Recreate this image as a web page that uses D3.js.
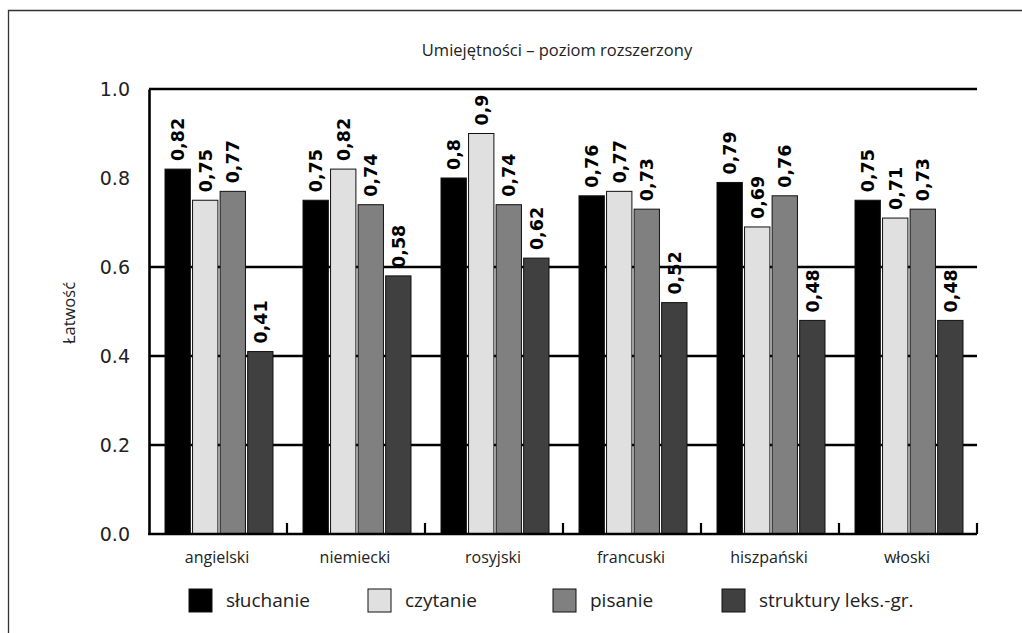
<!DOCTYPE html>
<html>
<head>
<meta charset="utf-8">
<script src="https://cdn.jsdelivr.net/npm/d3@7"></script>
<style>
  html, body { margin: 0; padding: 0; background: #fff; }
  svg { display: block; }
</style>
</head>
<body>
<svg id="chart" width="1022" height="633"></svg>
<script>
// Language categories
const categories = ["angielski", "niemiecki", "rosyjski", "francuski", "hiszpański", "włoski"];
// Skill series
const seriesNames = ["słuchanie", "czytanie", "pisanie", "struktury leks.-gr."];
const sluchanie = [0.82, 0.75, 0.80, 0.76, 0.79, 0.75];
const czytanie  = [0.75, 0.82, 0.90, 0.77, 0.69, 0.71];
const pisanie   = [0.77, 0.74, 0.74, 0.73, 0.76, 0.73];
const struktury = [0.41, 0.58, 0.62, 0.52, 0.48, 0.48];
const yTicks = [0.0, 0.2, 0.4, 0.6, 0.8, 1.0];
const gridValues = [0.2, 0.4, 0.6, 1.0];
const seriesColors = ["#000000", "#e0e0e0", "#808080", "#404040"];

const seriesValues = [sluchanie, czytanie, pisanie, struktury];

const svg = d3.select("#chart");
const plot = { left: 149, right: 977, top: 89, bottom: 534 };

// Frame around the figure
svg.append("path")
  .attr("d", "M8.5,633 L8.5,10.5 L1022,10.5")
  .attr("fill", "none").attr("stroke", "#333").attr("stroke-width", 1.3);

// Title
svg.append("text")
  .attr("x", 557).attr("y", 56)
  .attr("text-anchor", "middle")
  .attr("font-family", "'Open Sans', sans-serif")
  .attr("font-size", 16.5).attr("fill", "#222")
  .text("Umiejętności – poziom rozszerzony");

const x = d3.scaleBand().domain(categories).range([plot.left, plot.right]).padding(0);
const xInner = d3.scaleBand().domain(d3.range(seriesNames.length))
  .range([16, x.bandwidth() - 14]).paddingInner(0.08).paddingOuter(0);
const y = d3.scaleLinear().domain([0, 1]).range([plot.bottom, plot.top]);

// Gridlines
svg.append("g").selectAll("line").data(gridValues).join("line")
  .attr("x1", plot.left).attr("x2", plot.right)
  .attr("y1", d => y(d)).attr("y2", d => y(d))
  .attr("stroke", "#000").attr("stroke-width", 2.6);

// Bars
const groups = svg.append("g").selectAll("g").data(categories).join("g")
  .attr("transform", d => `translate(${x(d)},0)`);

groups.selectAll("rect")
  .data((c, ci) => seriesValues.map((vals, si) => ({ si, v: vals[ci] })))
  .join("rect")
  .attr("x", d => xInner(d.si))
  .attr("width", xInner.bandwidth())
  .attr("y", d => y(d.v))
  .attr("height", d => y(0) - y(d.v))
  .attr("fill", d => seriesColors[d.si])
  .attr("stroke", "#111").attr("stroke-width", 1);

// Value labels, rotated
groups.selectAll("text.val")
  .data((c, ci) => seriesValues.map((vals, si) => ({ si, v: vals[ci] })))
  .join("text")
  .attr("class", "val")
  .attr("transform", d => `translate(${xInner(d.si) + xInner.bandwidth() / 2 + 6.5},${y(d.v) - 8}) rotate(-90)`)
  .attr("font-family", "'DejaVu Sans', sans-serif")
  .attr("font-weight", "bold")
  .attr("font-size", 17.5)
  .attr("fill", "#000")
  .text(d => String(d.v).replace(".", ","));

// Y axis
const yAxis = svg.append("g")
  .attr("transform", `translate(${plot.left},0)`)
  .call(d3.axisLeft(y).tickValues(yTicks).tickFormat(d3.format(".1f")).tickSize(0).tickPadding(19));
yAxis.select(".domain").attr("stroke", "#000").attr("stroke-width", 2.6);
yAxis.selectAll("text")
  .attr("font-family", "'DejaVu Sans', sans-serif")
  .attr("font-size", 19).attr("fill", "#222")
  .attr("dy", "0.35em");

// X axis baseline with inward ticks at category boundaries
const xAxis = svg.append("g")
  .attr("transform", `translate(0,${plot.bottom})`);
xAxis.append("line")
  .attr("x1", plot.left - 1).attr("x2", plot.right)
  .attr("stroke", "#000").attr("stroke-width", 2.6);
xAxis.selectAll("line.tick").data(categories).join("line")
  .attr("class", "tick")
  .attr("x1", d => x(d) + x.bandwidth()).attr("x2", d => x(d) + x.bandwidth())
  .attr("y1", 0).attr("y2", -11)
  .attr("stroke", "#000").attr("stroke-width", 2.2);
xAxis.selectAll("text").data(categories).join("text")
  .attr("x", d => x(d) + x.bandwidth() / 2 - 1)
  .attr("y", 29)
  .attr("text-anchor", "middle")
  .attr("font-family", "'Open Sans', sans-serif")
  .attr("font-size", 16).attr("fill", "#222")
  .text(d => d);

// Y axis title
svg.append("text")
  .attr("transform", "translate(75,313) rotate(-90)")
  .attr("text-anchor", "middle")
  .attr("font-family", "'Open Sans', sans-serif")
  .attr("font-size", 16.5).attr("fill", "#222")
  .text("Łatwość");

// Legend
const legendX = [189, 368, 553, 722];
const legend = svg.append("g").selectAll("g").data(seriesNames).join("g")
  .attr("transform", (d, i) => `translate(${legendX[i]},589)`);
legend.append("rect")
  .attr("width", 23).attr("height", 23)
  .attr("fill", (d, i) => seriesColors[i])
  .attr("stroke", "#111").attr("stroke-width", 1);
legend.append("text")
  .attr("x", 37).attr("y", 18)
  .attr("font-family", "'Open Sans', sans-serif")
  .attr("font-size", 19).attr("fill", "#222")
  .text(d => d);
</script>
</body>
</html>
